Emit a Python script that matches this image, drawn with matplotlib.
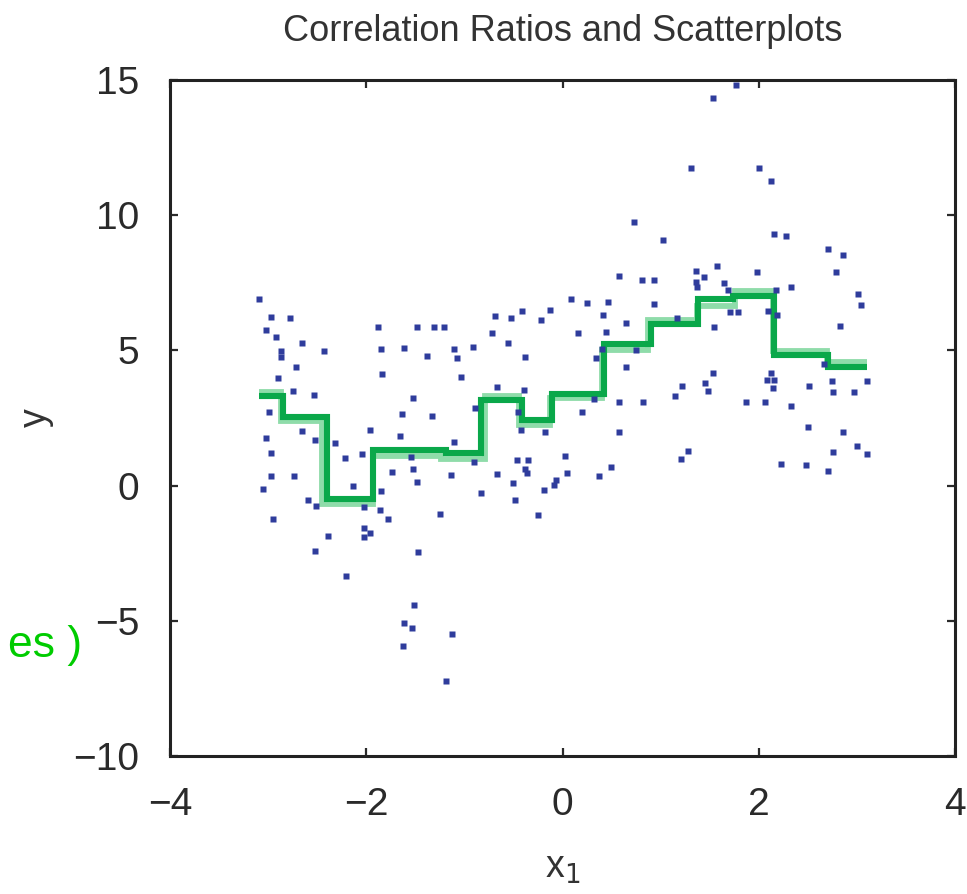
import numpy as np
import matplotlib
matplotlib.use("Agg")
import matplotlib.pyplot as plt

plt.rcParams['font.family'] = ['Liberation Sans', 'DejaVu Sans']

# scatter data
x1 = [-3.094, -2.971, -2.778, -3.022, -2.924, -2.659, -2.864, -2.864, -2.428, -2.714,
      -2.903, -2.744, -2.533, -1.878, -1.478, -1.308, -1.205, -1.853, -1.611, -1.381,
      -1.103, -0.912, -1.079, -1.843, -1.035, -0.688, -0.525, -0.416, -0.216, -0.124,
      -0.719, -0.556, -0.385, -0.663, -0.389, -1.521, -2.987, -2.650, -2.518, -2.314,
      -3.022, -2.971, -2.217, -2.044, -1.962, -1.656, -1.631, -1.733, -2.968, -2.734,
      -3.050, -2.136, -1.852, -2.597, -2.513, -2.021, -1.860, -2.951, -1.776, -2.393,
      -2.020, -1.957, -2.021, -2.523, -1.476, -2.207, -1.514, -1.613, -1.537, -1.129,
      -1.629, -1.191, -1.325, -0.894, -0.454, -0.423, -0.178, -1.106, -0.899, -1.539,
      -1.521, -1.137, -0.663, -0.459, -0.355, -0.385, -0.360, 0.025, 0.048, -0.066,
      -0.082, -0.187, -0.507, -0.831, -1.481, -0.484, -1.252, -0.247,
      1.769, 1.531, 1.310, 2.003, 2.125, 0.732, 1.021, 2.159, 2.278, 2.703,
      2.856, 2.785, 1.572, 1.358, 1.986, 0.576, 0.807, 0.933, 1.358, 1.442,
      1.374, 1.648, 1.684, 2.179, 2.332, 3.010, 3.038, 0.087, 0.250, 0.461,
      0.936, 0.413, 1.164, 0.650, 1.707, 1.792, 2.090, 2.183, 1.542, 2.829,
      0.158, 0.446, 0.400, 0.338, 0.642, 0.749, 1.529, 1.216, 1.456, 1.483,
      1.144, 2.122, 2.082, 2.156, 2.143, 2.516, 2.749, 2.760, 2.974, 3.107,
      2.666, 0.326, 0.572, 0.818, 1.867, 2.068, 2.326, 0.194, 0.579, 2.497,
      2.854, 1.279, 1.208, 2.755, 3.002, 3.107, 2.225, 2.480, 2.701, 0.497,
      0.375]
y = [6.89, 6.25, 6.21, 5.75, 5.51, 5.27, 4.98, 4.77, 4.98, 4.39,
     3.97, 3.50, 3.35, 5.87, 5.88, 5.88, 5.88, 5.07, 5.08, 4.78,
     5.04, 5.14, 4.72, 4.14, 4.03, 6.29, 6.19, 6.45, 6.14, 6.48,
     5.63, 5.27, 4.77, 3.65, 3.55, 3.24, 2.72, 2.03, 1.69, 1.59,
     1.75, 1.22, 1.02, 1.15, 2.07, 1.85, 2.66, 0.50, 0.34, 0.36,
     -0.14, -0.01, -0.20, -0.54, -0.77, -0.78, -0.90, -1.25, -1.25, -1.85,
     -1.58, -1.75, -1.89, -2.42, -2.46, -3.34, -4.42, -5.07, -5.28, -5.50,
     -5.92, -7.23, 2.56, 2.86, 2.73, 2.04, 2.00, 1.61, 0.88, 1.07,
     0.61, 0.40, 0.42, 0.95, 0.93, 0.61, 0.45, 1.11, 0.48, 0.21,
     0.04, -0.16, 0.11, -0.26, 0.13, -0.52, -1.04, -1.07,
     14.82, 14.35, 11.73, 11.73, 11.26, 9.74, 9.08, 9.30, 9.24, 8.74,
     8.53, 7.89, 8.13, 7.95, 7.89, 7.76, 7.60, 7.60, 7.54, 7.70,
     7.36, 7.49, 7.23, 7.24, 7.34, 7.09, 6.68, 6.89, 6.74, 6.79,
     6.71, 6.30, 6.20, 6.03, 6.42, 6.43, 6.45, 6.32, 5.88, 5.89,
     5.66, 5.69, 5.06, 4.72, 4.37, 5.00, 4.16, 3.68, 3.78, 3.49,
     3.33, 4.15, 3.91, 3.91, 3.60, 3.70, 3.87, 3.47, 3.47, 3.86,
     4.51, 3.20, 3.10, 3.10, 3.08, 3.10, 2.94, 2.73, 1.99, 2.17,
     1.98, 1.29, 0.97, 1.25, 1.46, 1.18, 0.78, 0.77, 0.55, 0.69,
     0.37]

# correlation-ratio step curve (bin edges and bin means)
step_edges = [-3.094, -2.849, -2.404, -1.929, -1.188, -0.831, -0.416, -0.110,
              0.426, 0.902, 1.378, 1.738, 2.159, 2.709, 3.101]
step_means = [3.32, 2.55, -0.50, 1.32, 1.22, 3.15, 2.43, 3.40,
              5.24, 5.96, 6.90, 7.01, 4.83, 4.40]

# lighter second curve
ghost_edges = [-3.094, -2.869, -2.449, -1.929, -1.239, -0.790, -0.443, -0.127,
               0.403, 0.872, 1.371, 1.758, 2.146, 2.696, 3.101]
ghost_means = [3.47, 2.39, -0.68, 1.09, 0.97, 3.31, 2.24, 3.23,
               5.01, 6.12, 6.65, 7.21, 4.98, 4.58]

fig = plt.figure(figsize=(9.67, 8.94), dpi=100)
ax = fig.add_axes([0.1758, 0.1544, 0.8118, 0.7561])

ax.stairs(ghost_means, ghost_edges, color='#8fdcaa', lw=4.2, baseline=None, zorder=2)
ax.stairs(step_means, step_edges, color='#0aa84a', lw=4.4, baseline=None, zorder=3)
ax.plot(x1, y, 's', ms=3.8, color='#2f3c9c', mec='none', zorder=4)

ax.set_xlim(-4, 4)
ax.set_ylim(-10, 15)
ax.set_xticks([-4, -2, 0, 2, 4])
ax.set_yticks([-10, -5, 0, 5, 10, 15])
ax.tick_params(direction='in', length=6, width=1.6, top=True, right=True,
               labelsize=28, colors='#2a2a2a')
ax.tick_params(axis='x', pad=22)
ax.tick_params(axis='y', pad=22)
for s in ax.spines.values():
    s.set_linewidth(2.2)
    s.set_color('#222222')

ax.set_title('Correlation Ratios and Scatterplots', fontsize=26, color='#333333', pad=28)
ax.set_xlabel('x$_1$', fontsize=27, color='#333333', labelpad=20)
ax.set_ylabel('y', fontsize=27, color='#333333', labelpad=14)

fig.text(82 / 967, 1 - 645 / 894, 'es )', color='#00cc00', fontsize=32,
         ha='right', va='center')

fig.savefig('out.png', dpi=100)
